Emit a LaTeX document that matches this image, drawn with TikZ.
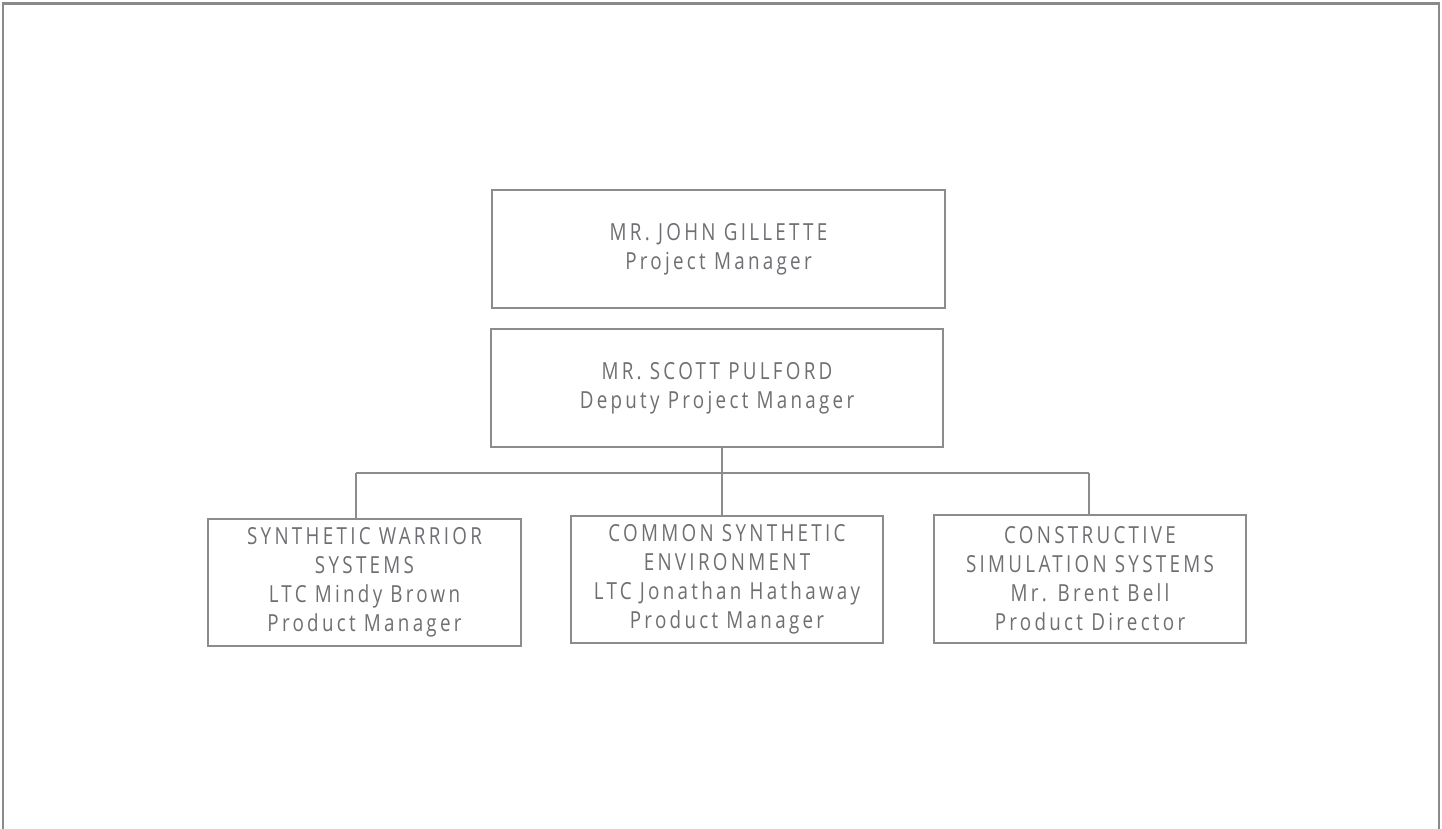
\documentclass[tikz,border=0pt]{standalone}
\usepackage{fontspec}
\setmainfont{Open Sans}[FakeStretch=0.8,LetterSpace=14]
\definecolor{framec}{HTML}{8A8A8A}
\definecolor{linec}{HTML}{8C8C8C}
\definecolor{textc}{HTML}{6E6F72}
\begin{document}
\begin{tikzpicture}[x=1pt,y=-1pt,
  box/.style={draw=linec, line width=1.4pt, align=center, text=textc, inner sep=0pt,
    font=\fontsize{23.5}{29}\selectfont},
  conn/.style={draw=linec, line width=1.4pt}]
\useasboundingbox (0,0) rectangle (1442,829);
\draw[framec, line width=2.2pt] (3,829) -- (3,3.5) -- (1439,3.5) -- (1439,829);
\node[box, minimum width=453pt, minimum height=118pt] (pm) at (718.5,249) {MR. JOHN GILLETTE\\Project Manager};
\node[box, minimum width=452pt, minimum height=118pt] (dpm) at (717,388) {MR. SCOTT PULFORD\\Deputy Project Manager};
\node[box, minimum width=313pt, minimum height=127pt] (sw) at (364.5,582.5) {SYNTHETIC WARRIOR\\SYSTEMS\\LTC Mindy Brown\\Product Manager};
\node[box, minimum width=312pt, minimum height=127pt] (cse) at (727,579.5) {COMMON SYNTHETIC\\ENVIRONMENT\\LTC Jonathan Hathaway\\Product Manager};
\node[box, minimum width=312pt, minimum height=128pt] (css) at (1090,579) {CONSTRUCTIVE\\SIMULATION SYSTEMS\\Mr. Brent Bell\\Product Director};
\coordinate (ja) at (356,473);
\coordinate (jb) at (722,473);
\coordinate (jc) at (1089,473);
\draw[conn] (ja) -- (jc);
\draw[conn] (jb |- dpm.south) -- (jb);
\draw[conn] (ja) -- (ja |- sw.north);
\draw[conn] (jb) -- (jb |- cse.north);
\draw[conn] (jc) -- (jc |- css.north);
\end{tikzpicture}
\end{document}
